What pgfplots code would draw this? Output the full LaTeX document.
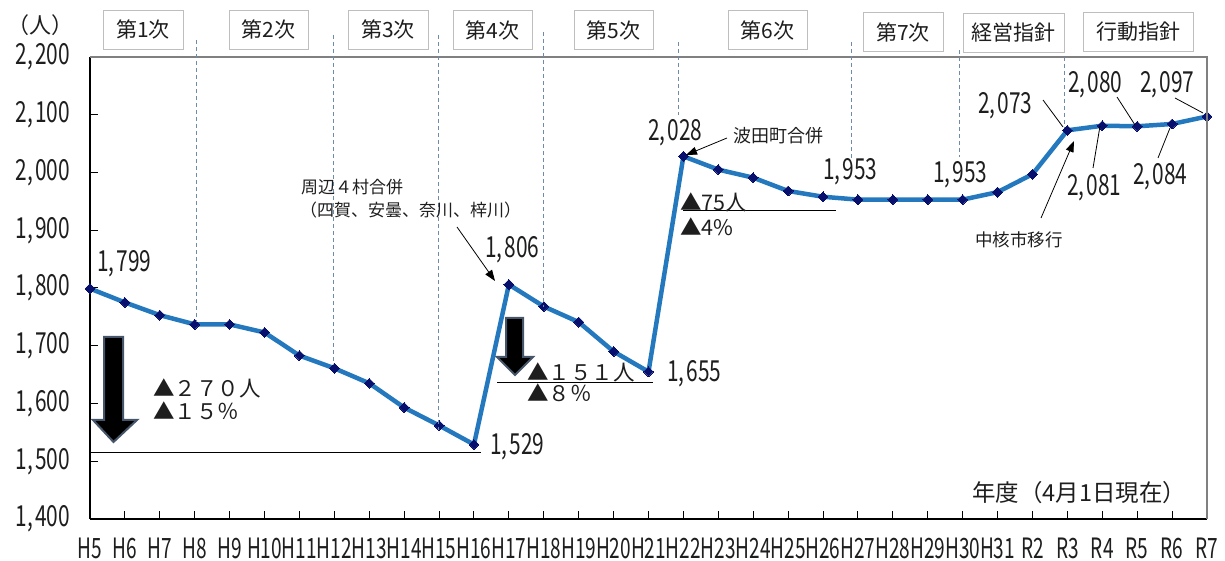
\documentclass[border=0pt]{standalone}
\usepackage{fontspec}
\setmainfont{Noto Sans CJK JP}
\newfontfamily\nar[FakeStretch=0.72]{Noto Sans CJK JP}
\newfontfamily\narx[FakeStretch=0.68]{Noto Sans CJK JP}
\newcommand\cm{,\hspace{2pt}}
\usepackage{pgfplots}
\pgfplotsset{compat=1.18}
\usepgfplotslibrary{}
\usetikzlibrary{arrows.meta}
\definecolor{lineblue}{RGB}{36,120,190}
\definecolor{mk}{RGB}{8,16,110}
\definecolor{dashc}{RGB}{110,140,170}
\definecolor{boxgray}{RGB}{190,190,190}
\definecolor{axgray}{RGB}{128,128,128}
\definecolor{arrowedge}{RGB}{70,85,105}
\definecolor{txt}{RGB}{30,30,30}
\pgfplotstableread{
idx val
0 1799
1 1775
2 1753
3 1737
4 1737
5 1723
6 1683
7 1661
8 1635
9 1593
10 1562
11 1529
12 1806
13 1768
14 1741
15 1690
16 1655
17 2028
18 2005
19 1991
20 1968
21 1958
22 1953
23 1953
24 1953
25 1953
26 1966
27 1997
28 2073
29 2081
30 2080
31 2084
32 2097
}\datatable
\begin{document}
\begin{tikzpicture}
\useasboundingbox (-90pt,-42pt) rectangle (1135pt,519pt);
\begin{axis}[
 scale only axis, width=1117pt, height=462pt,
 xmin=0, xmax=32, ymin=1400, ymax=2200,
 axis lines=left, axis line style={-, black, line width=1.8pt},
 xtick={0,...,32},
 xticklabels={H5,H6,H7,H8,H9,H10,H11,H12,H13,H14,H15,H16,H17,H18,H19,H20,H21,H22,H23,H24,H25,H26,H27,H28,H29,H30,H31,R2,R3,R4,R5,R6,R7},
 ytick={1400,1500,...,2200},
 yticklabels={{1\cm400},{1\cm500},{1\cm600},{1\cm700},{1\cm800},{1\cm900},{2\cm000},{2\cm100},{2\cm200}},
 tick align=inside, major tick length=8pt, tick style={black, line width=1pt},
 xticklabel style={font=\narx\fontsize{28}{28}\selectfont, inner sep=0pt, yshift=-19pt, text=txt},
 yticklabel style={font=\nar\fontsize{29}{29}\selectfont, inner sep=0pt, xshift=-20pt, text=txt},
 clip=false,
]
\addplot[lineblue, line width=4.5pt, mark=square*, mark size=3.5pt,
  mark options={draw=mk, fill=mk, rotate=45, line width=0pt}] table[x=idx,y=val] {\datatable};
\end{axis}
\begin{scope}[shift={(-90pt,519pt)},x=1pt,y=-1pt]
 % top and right frame
 \draw[axgray, line width=1.8pt] (90,57) -- (1207,57) -- (1207,519);
 % dashed separators
 \begin{scope}[dashc, line width=0.8pt, dash pattern=on 4pt off 3pt]
  \draw (196,40) -- (196,322);
  \draw (333,35) -- (333,365);
  \draw (438,35) -- (438,430);
  \draw (543,32) -- (543,307);
  \draw (678,42) -- (678,115);
  \draw (851,42) -- (851,160);
  \draw (959,50) -- (959,157);
  \draw (1064,57) -- (1064,128);
 \end{scope}
 % boxes
 \begin{scope}[every node/.style={draw=boxgray, line width=0.8pt, fill=white, inner sep=0pt, minimum height=39pt, font=\fontsize{21}{21}\selectfont, text=txt}]
  \node[minimum width=80pt] at (143,29.5) {第1次};
  \node[minimum width=79pt] at (268.5,29.5) {第2次};
  \node[minimum width=80pt] at (388,29.5) {第3次};
  \node[minimum width=79pt] at (492.5,30) {第4次};
  \node[minimum width=79pt] at (613.5,30) {第5次};
  \node[minimum width=79pt] at (767.5,30) {第6次};
  \node[minimum width=80pt] at (903,32) {第7次};
  \node[minimum width=101pt] at (1013.5,32.5) {経営指針};
  \node[minimum width=110pt] at (1138,31.5) {行動指針};
 \end{scope}
 % unit
 \node[font=\fontsize{22}{22}\selectfont, text=txt, inner sep=0pt] at (41,25) {（人）};
 % block arrows
 \filldraw[fill=black, draw=arrowedge, line width=2pt, line join=miter]
   (104,337) -- (123,337) -- (123,420) -- (137,420) -- (113.5,442) -- (93,420) -- (104,420) -- cycle;
 \filldraw[fill=black, draw=arrowedge, line width=2pt, line join=miter]
   (506,318) -- (523,318) -- (523,357) -- (533,357) -- (515,375) -- (497,357) -- (506,357) -- cycle;
 % reference lines
 \draw[black, line width=0.9pt] (90,452.7) -- (481,452.7);
 \draw[black, line width=0.9pt] (497,382) -- (653,382);
 \draw[black, line width=0.9pt] (683,210) -- (836,210);
 % value labels
 \begin{scope}[every node/.style={font=\nar\fontsize{29}{29}\selectfont, inner sep=0pt, anchor=west, text=txt}]
  \node at (97,264) {1\cm799};
  \node at (490,447) {1\cm529};
  \node at (485,250) {1\cm806};
  \node at (667,374) {1\cm655};
  \node at (648,133) {2\cm028};
  \node at (823,172) {1\cm953};
  \node at (933,175) {1\cm953};
  \node at (978,106) {2\cm073};
  \node at (1068,85) {2\cm080};
  \node at (1140,85) {2\cm097};
  \node at (1067,188) {2\cm081};
  \node at (1133,177) {2\cm084};
 \end{scope}
 % decrease labels
 \begin{scope}[every node/.style={font=\fontsize{21.5}{21.5}\selectfont, inner sep=0pt, anchor=west, text=txt}]
  \node at (153,388) {▲２７０人};
  \node at (153,411) {▲１５％};
  \node at (527,372) {▲１５１人};
  \node at (527,393) {▲８％};
  \node at (680,202) {▲75人};
  \node at (680,227) {▲4\%};
 \end{scope}
 % notes
 \begin{scope}[every node/.style={font=\fontsize{17}{17}\selectfont, inner sep=0pt, anchor=west, text=txt}]
  \node at (301,187) {周辺４村合併};
  \node at (300,210) {（四賀、安曇、奈川、梓川）};
  \node[font=\fontsize{18}{18}\selectfont] at (733,136) {波田町合併};
  \node[font=\fontsize{17.5}{17.5}\selectfont] at (975,240) {中核市移行};
  \node[font=\fontsize{23.5}{23.5}\selectfont] at (972,493) {年度（4月1日現在）};
 \end{scope}
 % arrows and leaders
 \draw[black, line width=0.8pt, -{Triangle[length=11pt,width=8pt]}] (457,227) -- (495,281);
 \draw[black, line width=0.8pt, -{Triangle[length=11pt,width=8pt]}] (727,138) -- (686,155);
 \draw[black, line width=0.8pt, -{Triangle[length=11pt,width=8pt]}] (1041,218) -- (1074,141);
 \draw[black, line width=0.8pt] (1043,100) -- (1063,127);
 \draw[black, line width=0.8pt] (1117,97) -- (1135,125);
 \draw[black, line width=0.8pt] (1175,98) -- (1203,113);
 \draw[black, line width=0.8pt] (1093,168) -- (1100,126);
 \draw[black, line width=0.8pt] (1158,158) -- (1170,128);
\end{scope}
\end{tikzpicture}
\end{document}
